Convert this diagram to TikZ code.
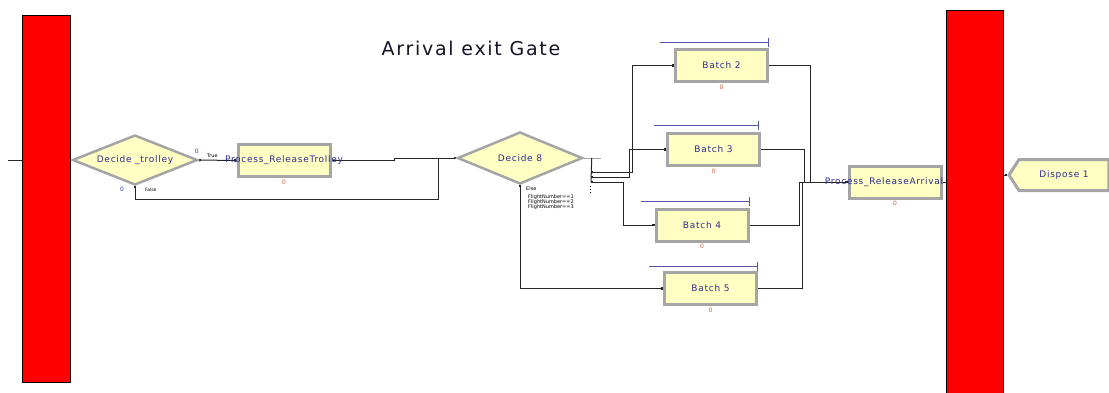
\documentclass[tikz,border=0pt]{standalone}
\usepackage{fontspec}
\setmainfont{DejaVu Sans}
\usetikzlibrary{positioning,arrows.meta,shapes.geometric,shapes.symbols,backgrounds}
\definecolor{modfill}{RGB}{255,255,196}
\definecolor{modedge}{RGB}{165,165,165}
\definecolor{modtext}{RGB}{45,45,140}
\definecolor{cntred}{RGB}{200,95,60}
\definecolor{cntblue}{RGB}{40,60,200}
\definecolor{qline}{RGB}{85,85,170}
\definecolor{titletext}{RGB}{20,20,40}

\begin{document}
\begin{tikzpicture}[x=1pt, y=-1pt,
  font=\fontsize{9}{10}\selectfont\addfontfeature{LetterSpace=8},
  title/.style={font=\fontsize{19}{20}\selectfont\addfontfeature{LetterSpace=9}, text=titletext},
  modbox/.style={rectangle, draw=modedge, line width=3pt, fill=modfill, text=modtext,
                 minimum width=92pt, minimum height=32pt, inner sep=0pt},
  modlabel/.style={text=modtext, inner sep=0pt},
  dec/.style={diamond, aspect=2.5, draw=modedge, line width=2.5pt, fill=modfill, text=modtext, inner sep=0pt},
  dispbox/.style={signal, signal to=west, signal pointer angle=114, draw=modedge, line width=3pt,
                  fill=modfill, text=modtext, minimum width=100pt, minimum height=31pt, inner sep=0pt},
  cnt/.style={font=\fontsize{6}{6}\selectfont, text=cntred, inner sep=1.5pt},
  bcnt/.style={font=\fontsize{6}{6}\selectfont, text=cntblue, inner sep=0pt},
  tag/.style={font=\fontsize{5}{6}\selectfont, inner sep=0pt, anchor=west},
  link/.style={draw=black!85, line width=1pt},
  entry/.style={link, -{Square[length=2.5pt,width=2.5pt]}},
  exitentry/.style={link, {Square[length=2pt,width=2.5pt]}-{Square[length=2.5pt,width=2.5pt]}},
  qbar/.style={draw=qline, line width=0.9pt, -{Bar[width=9pt]}},
  gate/.style={rectangle, fill=red, draw=black, line width=0.5pt, inner sep=0pt}
]
\useasboundingbox (0,0) rectangle (1109,392);
\clip (0,0) rectangle (1109,392);

\node[title] (title) at (471,48) {Arrival exit Gate};

\node[dec, minimum width=125pt, minimum height=50pt] (dt) at (135,160) {Decide \_trolley};
\node[modbox, label={[modlabel]center:Process\_ReleaseTrolley}, label={[cnt]below:0}] (prt) at (284,160.5) {};
\node[dec, minimum width=125pt, minimum height=52pt] (d8) at (520,158) {Decide 8};

\node[modbox, label={[cnt]below:0}] (b2) at (721.5,65.5) {Batch 2};
\node[modbox, label={[cnt]below:0}] (b3) at (713.5,149.5) {Batch 3};
\node[modbox, label={[cnt]below:0}] (b4) at (702,225) {Batch 4};
\node[modbox, label={[cnt]below:0}] (b5) at (710.5,288.5) {Batch 5};

\node[modbox, label={[modlabel, xshift=-11pt]center:Process\_ReleaseArrival}, label={[cnt]below:0}] (pra) at (895,182) {};
\node[dispbox] (disp) at (1064,175) {Dispose 1};

\node[bcnt] (dtc1) at ([xshift=-2pt,yshift=9pt]dt.east) {0};
\node[tag] (dtt) at ([xshift=8pt,yshift=4pt]dt.east) {True};
\node[tag, font=\fontsize{4.5}{5}\selectfont] (dtf) at ([xshift=10pt,yshift=-4pt]dt.south) {False};
\node[bcnt] (dtc2) at ([xshift=-13pt,yshift=-3pt]dt.south) {0};

\node[tag] (d8e) at ([xshift=6pt,yshift=-3.5pt]d8.south) {Else};
\node[tag] (d8c1) at ([xshift=8pt,yshift=-11.5pt]d8.south) {FlightNumber==1};
\node[tag] (d8c2) at ([xshift=8pt,yshift=-16.5pt]d8.south) {FlightNumber==2};
\node[tag] (d8c3) at ([xshift=8pt,yshift=-21.5pt]d8.south) {FlightNumber==3};

\draw[qbar] ([xshift=-14pt,yshift=6pt]b2.north west) -- ([yshift=6pt]b2.north east);
\draw[qbar] ([xshift=-12pt,yshift=7pt]b3.north west) -- ([xshift=-2pt,yshift=7pt]b3.north east);
\draw[qbar] ([xshift=-14pt,yshift=6pt]b4.north west) -- ([yshift=6pt]b4.north east);
\draw[qbar] ([xshift=-14pt,yshift=5pt]b5.north west) -- ([yshift=5pt]b5.north east);

\begin{scope}[on background layer]
\coordinate (src) at (8,160);
\coordinate (jn) at (438,158.5);
\coordinate (e1) at (591,172);
\coordinate (e2) at (591,177);
\coordinate (e3) at (591,182);
\draw[entry] (src) -- (dt.west);
\draw[exitentry] (dt.east) -- (prt.west);
\draw[link, {Square[length=2pt,width=2.5pt]}-] (dt.south) -- ++(0,13) -| (jn);
\draw[entry] (prt.east) -- ++(63,0) |- (d8.west);
\draw[link, draw=modedge] (d8.east) -- ++(17,0);
\draw[link] ([xshift=8pt]d8.east) -- (e3);
\draw[exitentry] (e1) -- ++(41,0) |- (b2.west);
\draw[exitentry] (e2) -- ++(38,0) |- (b3.west);
\draw[exitentry] (e3) -- ++(32,0) |- (b4.west);
\draw[exitentry] (d8.south) |- (b5.west);
\draw[entry] (b2.east) -- ++(41,0) |- (pra.west);
\draw[entry] (b3.east) -- ++(43,0) |- (pra.west);
\draw[entry] (b4.east) -- ++(50,0) |- (pra.west);
\draw[entry] (b5.east) -- ++(44,0) |- (pra.west);
\draw[entry] (pra.east) -- ++(30,0) |- (disp.west);
\foreach \k in {4.5,7.5,10.5}
  \fill ([xshift=-0.5pt,yshift=-\k pt]e3) circle (0.55pt);
\end{scope}

\node[gate, minimum width=48pt, minimum height=367pt] (gl) at (46,198.5) {};
\node[gate, minimum width=57pt, minimum height=390pt] (gr) at (974.5,205) {};
\end{tikzpicture}
\end{document}
